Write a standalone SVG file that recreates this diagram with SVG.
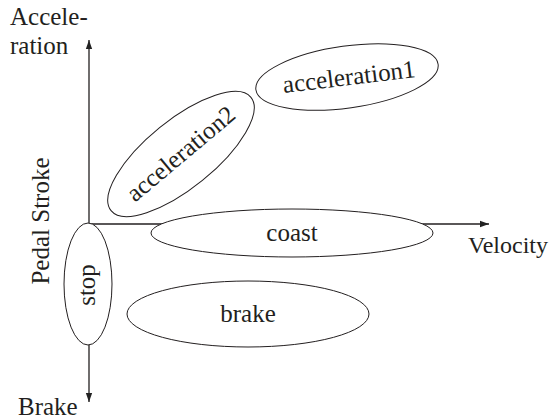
<svg xmlns="http://www.w3.org/2000/svg" width="553" height="420" viewBox="0 0 553 420">
<defs>
<marker id="ah" viewBox="0 0 10 10" refX="10" refY="5" markerWidth="9" markerHeight="9" markerUnits="userSpaceOnUse" orient="auto">
<path d="M0,1.5 L10,5 L0,8.5 Z" fill="#222"/>
</marker>
</defs>
<style>
text{font-family:"Liberation Serif","Times New Roman",serif;font-size:25px;fill:#231f20}
.n{fill:#fff;stroke:#231f20;stroke-width:1}
.c{fill:none;stroke:#231f20;stroke-width:1.3}
</style>
<g id="connectors">
<line class="c" x1="89" y1="224" x2="89" y2="40" marker-end="url(#ah)"/>
<line class="c" x1="89" y1="224" x2="89" y2="402" marker-end="url(#ah)"/>
<line class="c" x1="89" y1="224" x2="489" y2="224" marker-end="url(#ah)"/>
</g>
<g id="labels">
<text x="10" y="25">Accele-</text>
<text x="10" y="54">ration</text>
<text x="468" y="253" style="font-size:24px">Velocity</text>
<text x="18" y="415">Brake</text>
<text transform="translate(49,221) rotate(-90)" text-anchor="middle">Pedal Stroke</text>
</g>
<g id="coast">
<ellipse class="n" cx="292" cy="233" rx="141" ry="24"/>
<text x="292" y="241" text-anchor="middle">coast</text>
</g>
<g id="brake">
<ellipse class="n" cx="248" cy="314" rx="121" ry="33"/>
<text x="248" y="322" text-anchor="middle">brake</text>
</g>
<g id="stop">
<ellipse class="n" cx="88" cy="284" rx="24" ry="61"/>
<text transform="translate(95,285) rotate(-90)" text-anchor="middle">stop</text>
</g>
<g id="acceleration2">
<ellipse class="n" cx="181" cy="154" rx="90" ry="34" transform="rotate(-39 181 154)"/>
<text transform="translate(186,160) rotate(-40)" text-anchor="middle">acceleration2</text>
</g>
<g id="acceleration1">
<ellipse class="n" cx="347" cy="77" rx="92" ry="31" transform="rotate(-8 347 77)"/>
<text transform="translate(350,85) rotate(-7)" text-anchor="middle">acceleration1</text>
</g>
</svg>
